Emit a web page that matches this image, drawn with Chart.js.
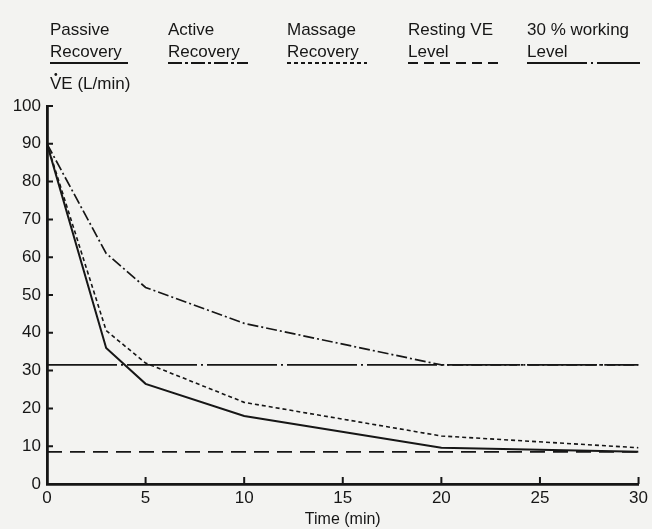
<!DOCTYPE html>
<html>
<head>
<meta charset="utf-8">
<script src="https://cdn.jsdelivr.net/npm/chart.js@4.4.1/dist/chart.umd.min.js"></script>
<style>
  html, body { margin: 0; padding: 0; background: #f3f3f1; }
  #wrap { width: 652px; height: 529px; }
</style>
</head>
<body>
<div id="wrap"><canvas id="myChart" width="652" height="529"></canvas></div>
<script>
var time = [0, 3, 5, 10, 20, 30];
var passive = [90, 36, 26.5, 18, 9.6, 8.5];
var active = [90, 61, 52, 42.5, 31.5, 31.5];
var massage = [90, 40.6, 32, 21.6, 12.7, 9.6];
var restingTime = [0, 30];
var resting = [8.5, 8.5];
var working = [31.5, 31.5];

var legendText = [
    ["Passive", "Recovery"],
    ["Active", "Recovery"],
    ["Massage", "Recovery"],
    ["Resting VE", "Level"],
    ["30 % working", "Level"]
];

var ink = "#161616";
var font = "'Liberation Sans', Arial, sans-serif";

function pts(xs, ys) {
    return xs.map(function (x, i) { return { x: x, y: ys[i] }; });
}

// legend, y unit label and inward tick marks
var extras = {
    id: "extras",
    afterDraw: function (chart) {
        var c = chart.ctx;
        var xs = [50, 168, 287, 408, 527];
        var lens = [78, 80, 80, 90, 113];
        var dashes = [[], [14, 3, 3, 3], [4, 3], [10, 6], [60, 4, 2, 4]];
        c.save();
        c.fillStyle = ink;
        c.font = "17px " + font;
        c.textBaseline = "alphabetic";
        legendText.forEach(function (t, i) {
            c.fillText(t[0], xs[i], 35);
            c.fillText(t[1], xs[i], 57);
            c.beginPath();
            c.setLineDash(dashes[i]);
            c.strokeStyle = ink;
            c.lineWidth = 1.8;
            c.moveTo(xs[i], 63);
            c.lineTo(xs[i] + lens[i], 63);
            c.stroke();
        });
        c.setLineDash([]);
        c.fillText("VE (L/min)", 50, 89);
        // dot over the V
        c.beginPath();
        c.arc(55.8, 74.5, 1.4, 0, Math.PI * 2);
        c.fill();

        var xs2 = chart.scales.x, ys2 = chart.scales.y;
        var a = chart.chartArea;
        c.strokeStyle = ink;
        c.lineWidth = 2;
        c.beginPath();
        ys2.ticks.forEach(function (t) {
            var y = ys2.getPixelForValue(t.value);
            c.moveTo(a.left, y);
            c.lineTo(a.left + 6, y);
        });
        xs2.ticks.forEach(function (t) {
            var x = xs2.getPixelForValue(t.value);
            c.moveTo(x, a.bottom);
            c.lineTo(x, a.bottom - 7);
        });
        c.stroke();
        c.restore();
    }
};

var ctx = document.getElementById("myChart");

var myChart = new Chart(ctx, {
    type: "line",
    data: {
        datasets: [
            { label: "Passive Recovery", data: pts(time, passive), borderColor: ink, borderWidth: 2 },
            { label: "Active Recovery", data: pts(time, active), borderColor: ink, borderWidth: 1.7, borderDash: [11, 3, 2, 3] },
            { label: "Massage Recovery", data: pts(time, massage), borderColor: ink, borderWidth: 1.6, borderDash: [4, 3] },
            { label: "Resting VE Level", data: pts(restingTime, resting), borderColor: ink, borderWidth: 1.7, borderDash: [15, 8] },
            { label: "30 % working Level", data: pts(restingTime, working), borderColor: ink, borderWidth: 1.7, borderDash: [70, 4, 2, 4] }
        ]
    },
    options: {
        responsive: false,
        animation: false,
        layout: { padding: { top: 106, right: 9, left: 0, bottom: 0 } },
        elements: { point: { radius: 0 }, line: { tension: 0, fill: false } },
        plugins: { legend: { display: false }, tooltip: { enabled: false } },
        scales: {
            x: {
                type: "linear",
                min: 0,
                max: 30,
                ticks: { stepSize: 5, color: ink, padding: 4, font: { family: font, size: 17 } },
                grid: { drawOnChartArea: false, drawTicks: false },
                border: { color: ink, width: 2.8 },
                title: { display: true, text: "Time (min)", color: ink, padding: { top: 0, bottom: 0 }, font: { family: font, size: 16 } },
                afterFit: function (s) { s.height = 45; }
            },
            y: {
                min: 0,
                max: 100,
                ticks: { stepSize: 10, color: ink, padding: 6, font: { family: font, size: 17 } },
                grid: { drawOnChartArea: false, drawTicks: false },
                border: { color: ink, width: 2.8 },
                afterFit: function (s) { s.width = 47; }
            }
        }
    },
    plugins: [extras]
});
</script>
</body>
</html>
